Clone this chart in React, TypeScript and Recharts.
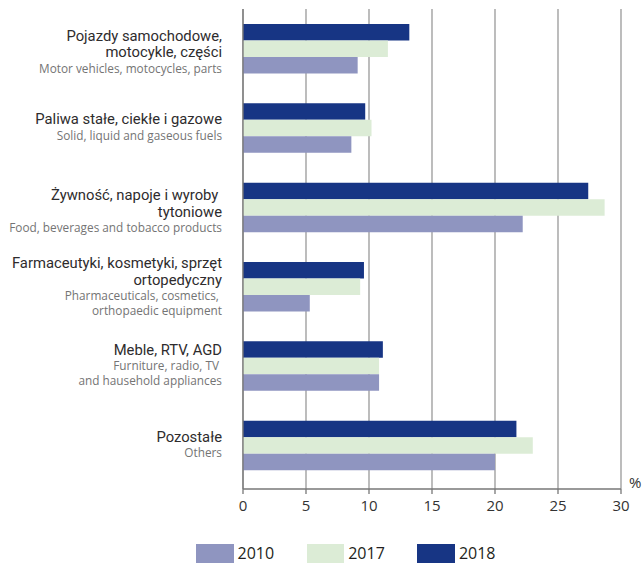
import React from "react";
import {
  BarChart,
  Bar,
  XAxis,
  YAxis,
  CartesianGrid,
  Label,
} from "recharts";

// categories (Polish lines / English lines)
const categoryKeys = ["Pojazdy", "Paliwa", "Zywnosc", "Farmaceutyki", "Meble", "Pozostale"];
const plLines = [
  ["Pojazdy samochodowe,", "motocykle, części"],
  ["Paliwa stałe, ciekłe i gazowe"],
  ["Żywność, napoje i wyroby ", "tytoniowe"],
  ["Farmaceutyki, kosmetyki, sprzęt", "ortopedyczny"],
  ["Meble, RTV, AGD"],
  ["Pozostałe"],
];
const enLines = [
  ["Motor vehicles, motocycles, parts"],
  ["Solid, liquid and gaseous fuels"],
  ["Food, beverages and tobacco products"],
  ["Pharmaceuticals, cosmetics, ", "orthopaedic equipment"],
  ["Furniture, radio, TV ", "and hausehold appliances"],
  ["Others"],
];

// shares in %
const values2010 = [9.1, 8.6, 22.2, 5.3, 10.8, 20.0];
const values2017 = [11.5, 10.2, 28.7, 9.3, 10.8, 23.0];
const values2018 = [13.2, 9.7, 27.4, 9.6, 11.1, 21.7];

const xTicks = [0, 5, 10, 15, 20, 25, 30];
const years = ["2010", "2017", "2018"];

const colors: Record<string, string> = {
  "2010": "#8f95c0",
  "2017": "#dcecd6",
  "2018": "#173584",
};

const data = categoryKeys.map((k, i) => ({
  name: k,
  "2010": values2010[i],
  "2017": values2017[i],
  "2018": values2018[i],
}));

const FONT = "'Open Sans', 'Noto Sans', sans-serif";
const MAIN_FONT = "Roboto, 'Open Sans', sans-serif";
const LABEL_NUDGE = [4, 0, 5, 1, 0, 0];
const MAIN_STEP = 16.8;
const MAIN_TO_SUB = 15.5;
const SUB_STEP = 15;

// two-language label: Polish lines (dark) over English lines (grey)
function CategoryTick(props: any) {
  const { y, index } = props;
  const pl = plLines[index] || [];
  const en = enLines[index] || [];
  const span =
    (pl.length - 1) * MAIN_STEP + MAIN_TO_SUB + (en.length - 1) * SUB_STEP;
  const first = y - span / 2 + 4 + (LABEL_NUDGE[index] || 0);
  const subFirst = first + (pl.length - 1) * MAIN_STEP + MAIN_TO_SUB;
  return (
    <g>
      <text
        x={222}
        y={first}
        textAnchor="end"
        fontFamily={MAIN_FONT}
        fontSize={14.8}
        fill="#2e2c2d"
        style={{ whiteSpace: "pre" }}
      >
        {pl.map((t, i) => (
          <tspan key={i} x={222} dy={i === 0 ? 0 : MAIN_STEP}>
            {t}
          </tspan>
        ))}
      </text>
      <text
        x={222}
        y={subFirst}
        textAnchor="end"
        fontFamily={FONT}
        fontSize={11.8}
        fill="#747474"
        style={{ whiteSpace: "pre" }}
      >
        {en.map((t, i) => (
          <tspan key={i} x={222} dy={i === 0 ? 0 : SUB_STEP}>
            {t}
          </tspan>
        ))}
      </text>
    </g>
  );
}

function PercentLabel(props: any) {
  const vb = props.viewBox || {};
  return (
    <text
      x={vb.x + vb.width + 8}
      y={vb.y - 1}
      fontFamily={FONT}
      fontSize={15}
      fill="#333"
    >
      %
    </text>
  );
}

function LegendRow() {
  return (
    <div
      style={{
        position: "absolute",
        left: 196,
        top: 544,
        display: "flex",
        fontFamily: FONT,
        fontSize: 16,
        color: "#231f20",
      }}
    >
      {years.map((yr) => (
        <div
          key={yr}
          style={{ display: "flex", alignItems: "center", width: 110.7 }}
        >
          <div style={{ width: 37.5, height: 19, background: colors[yr] }} />
          <span style={{ marginLeft: 4, lineHeight: "19px" }}>{yr}</span>
        </div>
      ))}
    </div>
  );
}

export default function App() {
  return (
    <div style={{ position: "relative", width: 643, height: 564 }}>
      <style>{`body{margin:0}`}</style>
      <BarChart
        width={643}
        height={564}
        data={data}
        layout="vertical"
        barGap={0}
        barSize={16.5}
        margin={{ top: 9, right: 22, bottom: 35, left: 0 }}
      >
        <CartesianGrid horizontal={false} stroke="#999" strokeWidth={1.3} />
        <XAxis
          type="number"
          domain={[0, 30]}
          ticks={xTicks}
          interval={0}
          height={40}
          axisLine={{ stroke: "#777", strokeWidth: 1.3 }}
          tickLine={{ stroke: "#777", strokeWidth: 1.3 }}
          tickSize={5}
          tickMargin={6}
          tick={{ fill: "#333", fontSize: 15, fontFamily: FONT }}
        >
          <Label content={<PercentLabel />} />
        </XAxis>
        <YAxis
          type="category"
          dataKey="name"
          width={243}
          interval={0}
          tickLine={false}
          axisLine={{ stroke: "#777", strokeWidth: 1.3 }}
          padding={{ top: 0, bottom: 4 }}
          tick={<CategoryTick />}
        />
        {["2018", "2017", "2010"].map((yr) => (
          <Bar
            key={yr}
            dataKey={yr}
            fill={colors[yr]}
            isAnimationActive={false}
          />
        ))}
      </BarChart>
      <LegendRow />
    </div>
  );
}
